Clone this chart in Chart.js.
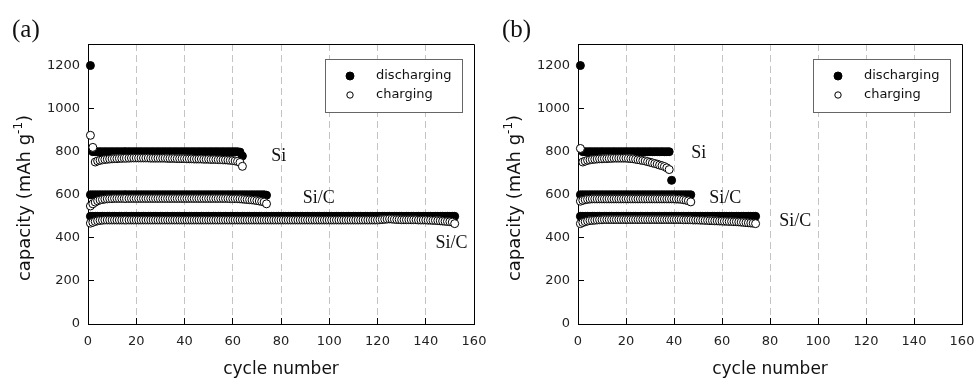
<!DOCTYPE html>
<html>
<head>
<meta charset="utf-8">
<script src="https://cdn.jsdelivr.net/npm/chart.js@4.4.0/dist/chart.umd.min.js"></script>
<style>
  body { margin: 0; background: #fff; }
  #wrap { position: relative; width: 978px; height: 381px; }
  canvas { position: absolute; top: 0; }
</style>
</head>
<body>
<div id="wrap">
  <canvas id="chartA" width="489" height="381" style="left:0"></canvas>
  <canvas id="chartB" width="488" height="381" style="left:490px"></canvas>
</div>
<script>
// ---- panel (a) ----
const siDischargeA = [
  1200, 800, 800, 800, 800, 800, 800, 800, 800, 800,
  800, 800, 800, 800, 800, 800, 800, 800, 800, 800,
  800, 800, 800, 800, 800, 800, 800, 800, 800, 800,
  800, 800, 800, 800, 800, 800, 800, 800, 800, 800,
  800, 800, 800, 800, 800, 800, 800, 800, 800, 800,
  800, 800, 800, 800, 800, 800, 800, 800, 800, 800,
  800, 800, 798, 780
];
const siChargeA = [
  876, 820, 752, 757, 760, 762, 764, 765, 766, 767,
  768, 768, 769, 769, 770, 770, 770, 771, 771, 771,
  771, 771, 771, 771, 771, 770, 770, 770, 770, 770,
  770, 770, 769, 769, 769, 769, 768, 768, 768, 768,
  767, 767, 767, 766, 766, 766, 766, 765, 765, 765,
  764, 764, 764, 763, 763, 762, 762, 761, 760, 759,
  757, 755, 750, 732
];
const sicDischargeA = [
  600, 600, 600, 600, 600, 600, 600, 600, 600, 600,
  600, 600, 600, 600, 600, 600, 600, 600, 600, 600,
  600, 600, 600, 600, 600, 600, 600, 600, 600, 600,
  600, 600, 600, 600, 600, 600, 600, 600, 600, 600,
  600, 600, 600, 600, 600, 600, 600, 600, 600, 600,
  600, 600, 600, 600, 600, 600, 600, 600, 600, 600,
  600, 600, 600, 600, 600, 600, 600, 600, 600, 600,
  600, 600, 600, 598
];
const sicChargeA = [
  548, 558, 566, 572, 576, 578, 580, 581, 582, 582,
  583, 583, 583, 583, 583, 583, 583, 583, 583, 583,
  583, 583, 583, 583, 583, 583, 583, 583, 583, 583,
  583, 583, 583, 583, 583, 583, 583, 583, 583, 583,
  583, 583, 583, 583, 583, 583, 583, 583, 583, 583,
  583, 583, 583, 583, 583, 583, 583, 583, 582, 582,
  582, 582, 581, 580, 579, 578, 577, 576, 575, 573,
  571, 569, 566, 558
];
const sic2DischargeA = [
  500, 500, 500, 500, 500, 500, 500, 500, 500, 500,
  500, 500, 500, 500, 500, 500, 500, 500, 500, 500,
  500, 500, 500, 500, 500, 500, 500, 500, 500, 500,
  500, 500, 500, 500, 500, 500, 500, 500, 500, 500,
  500, 500, 500, 500, 500, 500, 500, 500, 500, 500,
  500, 500, 500, 500, 500, 500, 500, 500, 500, 500,
  500, 500, 500, 500, 500, 500, 500, 500, 500, 500,
  500, 500, 500, 500, 500, 500, 500, 500, 500, 500,
  500, 500, 500, 500, 500, 500, 500, 500, 500, 500,
  500, 500, 500, 500, 500, 500, 500, 500, 500, 500,
  500, 500, 500, 500, 500, 500, 500, 500, 500, 500,
  500, 500, 500, 500, 500, 500, 500, 500, 500, 500,
  500, 500, 500, 500, 500, 500, 500, 500, 500, 500,
  500, 500, 500, 500, 500, 500, 500, 500, 500, 500,
  500, 500, 500, 500, 500, 500, 500, 500, 500, 500,
  500, 500
];
const sic2ChargeA = [
  468, 472, 476, 479, 481, 482, 483, 483, 483, 483,
  483, 483, 483, 483, 483, 483, 483, 483, 483, 483,
  483, 483, 483, 483, 483, 483, 483, 483, 483, 483,
  483, 483, 483, 483, 483, 483, 483, 483, 483, 483,
  483, 483, 483, 483, 483, 483, 483, 483, 483, 483,
  483, 483, 483, 483, 483, 483, 483, 483, 483, 483,
  483, 483, 483, 483, 483, 483, 483, 483, 483, 483,
  483, 483, 483, 483, 483, 483, 483, 483, 483, 483,
  483, 483, 483, 483, 483, 483, 483, 483, 483, 483,
  483, 483, 483, 483, 483, 483, 483, 483, 483, 483,
  483, 483, 483, 483, 483, 483, 483, 483, 483, 483,
  483, 483, 483, 483, 483, 483, 483, 483, 483, 483,
  484, 485, 486, 487, 488, 487, 486, 485, 485, 484,
  484, 484, 484, 484, 484, 484, 483, 483, 483, 483,
  482, 482, 481, 481, 480, 479, 478, 477, 476, 475,
  473, 466
];

// ---- panel (b) ----
const siDischargeB = [
  1200, 800, 800, 800, 800, 800, 800, 800, 800, 800,
  800, 800, 800, 800, 800, 800, 800, 800, 800, 800,
  800, 800, 800, 800, 800, 800, 800, 800, 800, 800,
  800, 800, 800, 800, 800, 800, 800, 800, 667
];
const siChargeB = [
  815, 752, 756, 760, 762, 764, 765, 766, 767, 767,
  768, 768, 769, 769, 770, 770, 770, 770, 770, 770,
  769, 768, 767, 765, 763, 761, 759, 757, 754, 751,
  748, 745, 742, 738, 735, 731, 725, 717
];
const sicDischargeB = [
  600, 600, 600, 600, 600, 600, 600, 600, 600, 600,
  600, 600, 600, 600, 600, 600, 600, 600, 600, 600,
  600, 600, 600, 600, 600, 600, 600, 600, 600, 600,
  600, 600, 600, 600, 600, 600, 600, 600, 600, 600,
  600, 600, 600, 600, 600, 600, 600
];
const sicChargeB = [
  570, 574, 577, 579, 580, 581, 581, 581, 581, 581,
  581, 581, 581, 581, 581, 581, 581, 581, 581, 581,
  581, 581, 581, 581, 581, 581, 581, 581, 581, 581,
  581, 581, 581, 581, 581, 581, 581, 581, 581, 581,
  580, 580, 579, 577, 575, 572, 567
];
const sic2DischargeB = [
  500, 500, 500, 500, 500, 500, 500, 500, 500, 500,
  500, 500, 500, 500, 500, 500, 500, 500, 500, 500,
  500, 500, 500, 500, 500, 500, 500, 500, 500, 500,
  500, 500, 500, 500, 500, 500, 500, 500, 500, 500,
  500, 500, 500, 500, 500, 500, 500, 500, 500, 500,
  500, 500, 500, 500, 500, 500, 500, 500, 500, 500,
  500, 500, 500, 500, 500, 500, 500, 500, 500, 500,
  500, 500, 500, 500
];
const sic2ChargeB = [
  466, 471, 475, 478, 480, 481, 482, 483, 484, 484,
  485, 485, 485, 485, 485, 485, 485, 485, 485, 485,
  485, 485, 485, 485, 485, 485, 485, 485, 485, 485,
  485, 485, 485, 485, 485, 485, 485, 485, 485, 485,
  485, 485, 485, 484, 484, 484, 484, 483, 483, 483,
  482, 482, 481, 481, 480, 480, 479, 479, 478, 478,
  477, 477, 476, 476, 475, 475, 474, 473, 472, 471,
  470, 469, 468, 466
];

const seriesNames = ['discharging', 'charging'];
const notesA = [
  { text: 'Si', x: 76, y: 757 },
  { text: 'Si/C', x: 89, y: 561 },
  { text: 'Si/C', x: 144, y: 354 }
];
const notesB = [
  { text: 'Si', x: 47.2, y: 770 },
  { text: 'Si/C', x: 54.7, y: 561 },
  { text: 'Si/C', x: 83.9, y: 456 }
];

const SANS = '"DejaVu Sans", sans-serif';
const SERIF = '"Liberation Serif", "Times New Roman", serif';

function toPoints(values) {
  return values.map((v, i) => ({ x: i + 1, y: v }));
}

const decorPlugin = {
  id: 'decor',
  afterDatasetsDraw(chart, args, opts) {
    const { ctx, chartArea: a, scales: { x, y } } = chart;
    ctx.save();

    // top and right frame
    ctx.strokeStyle = '#000';
    ctx.lineWidth = 1;
    ctx.beginPath();
    ctx.moveTo(a.left, a.top + 0.5);
    ctx.lineTo(a.right + 0.5, a.top + 0.5);
    ctx.lineTo(a.right + 0.5, a.bottom);
    ctx.stroke();

    // series labels
    ctx.fillStyle = '#111';
    ctx.font = '18px ' + SERIF;
    ctx.textBaseline = 'alphabetic';
    ctx.textAlign = 'left';
    opts.notes.forEach(n => {
      ctx.fillText(n.text, x.getPixelForValue(n.x), y.getPixelForValue(n.y));
    });

    // legend box
    const bw = 137, bh = 53;
    const bx = a.right - 12 - bw, by = a.top + 15;
    ctx.fillStyle = '#fff';
    ctx.fillRect(bx, by, bw, bh);
    ctx.strokeStyle = '#666';
    ctx.strokeRect(bx + 0.5, by + 0.5, bw, bh);
    const rows = [by + 17, by + 36];
    chart.data.datasets.slice().reverse().forEach((ds, i) => {
      ctx.beginPath();
      ctx.arc(bx + 25, rows[i], i === 0 ? 4 : 3.2, 0, Math.PI * 2);
      ctx.fillStyle = ds.pointBackgroundColor;
      ctx.fill();
      ctx.strokeStyle = ds.pointBorderColor;
      ctx.lineWidth = 1;
      ctx.stroke();
      ctx.fillStyle = '#111';
      ctx.font = '13px ' + SANS;
      ctx.textBaseline = 'middle';
      ctx.fillText(ds.label, bx + 51, rows[i]);
    });

    // y axis title with superscript
    ctx.translate(30, (a.top + a.bottom) / 2 + 14);
    ctx.rotate(-Math.PI / 2);
    ctx.textBaseline = 'alphabetic';
    ctx.fillStyle = '#111';
    const main = 'capacity (mAh g', sup = '-1', end = ')';
    ctx.font = '18px ' + SANS;
    const wMain = ctx.measureText(main).width, wEnd = ctx.measureText(end).width;
    ctx.font = '12px ' + SANS;
    const wSup = ctx.measureText(sup).width;
    let cx = -(wMain + wSup + wEnd) / 2;
    ctx.font = '18px ' + SANS;
    ctx.fillText(main, cx, 0);
    cx += wMain;
    ctx.font = '12px ' + SANS;
    ctx.fillText(sup, cx, -8);
    cx += wSup;
    ctx.font = '18px ' + SANS;
    ctx.fillText(end, cx, 0);
    ctx.restore();

    // panel letter
    ctx.save();
    ctx.fillStyle = '#111';
    ctx.font = '25px ' + SERIF;
    ctx.textBaseline = 'alphabetic';
    ctx.fillText(opts.letter, 12, 37);
    ctx.restore();
  }
};

function makePanel(canvasId, letter, notes, rightPad, discharge, charge) {
  new Chart(document.getElementById(canvasId), {
    type: 'scatter',
    data: {
      datasets: [
        {
          label: seriesNames[1],
          data: charge,
          pointRadius: 4,
          pointHoverRadius: 4,
          pointBorderWidth: 1,
          pointBackgroundColor: '#fff',
          pointBorderColor: '#000',
          clip: false
        },
        {
          label: seriesNames[0],
          data: discharge,
          pointRadius: 4,
          pointHoverRadius: 4,
          pointBorderWidth: 1,
          pointBackgroundColor: '#000',
          pointBorderColor: '#000',
          clip: false
        }
      ]
    },
    options: {
      responsive: false,
      animation: false,
      devicePixelRatio: 1,
      events: [],
      layout: { padding: { left: 0, top: 44, right: rightPad, bottom: 0 } },
      plugins: {
        legend: { display: false },
        tooltip: { enabled: false },
        decor: { letter: letter, notes: notes }
      },
      scales: {
        x: {
          type: 'linear',
          min: 0,
          max: 160,
          afterFit: s => { s.height = 57; s.paddingLeft = 0; s.paddingRight = 0; },
          ticks: { stepSize: 20, padding: 16, color: '#222', font: { family: SANS, size: 13 } },
          grid: {
            color: c => (c.tick && (c.tick.value === 0 || c.tick.value === 160)) ? 'rgba(0,0,0,0)' : '#c4c4c4',
            tickLength: -6,
            tickColor: '#000',
            tickBorderDash: []
          },
          border: { color: '#000', width: 1, dash: [7, 4] },
          title: {
            display: true,
            text: 'cycle number',
            color: '#111',
            font: { family: SANS, size: 17 },
            padding: { top: 0, bottom: 1 }
          }
        },
        y: {
          min: 0,
          max: 1300,
          afterFit: s => { s.width = 88; s.paddingTop = 0; s.paddingBottom = 0; },
          ticks: {
            stepSize: 200,
            includeBounds: false,
            padding: 14,
            color: '#222',
            font: { family: SANS, size: 13 },
            callback: v => String(v)
          },
          grid: { drawOnChartArea: false, tickLength: -6, color: '#000' },
          border: { color: '#000', width: 1 }
        }
      }
    },
    plugins: [decorPlugin]
  });
}

makePanel('chartA', '(a)', notesA, 15,
  [...toPoints(siDischargeA), ...toPoints(sicDischargeA), ...toPoints(sic2DischargeA)],
  [...toPoints(siChargeA), ...toPoints(sicChargeA), ...toPoints(sic2ChargeA)]);

makePanel('chartB', '(b)', notesB, 16,
  [...toPoints(siDischargeB), ...toPoints(sicDischargeB), ...toPoints(sic2DischargeB)],
  [...toPoints(siChargeB), ...toPoints(sicChargeB), ...toPoints(sic2ChargeB)]);
</script>
</body>
</html>
